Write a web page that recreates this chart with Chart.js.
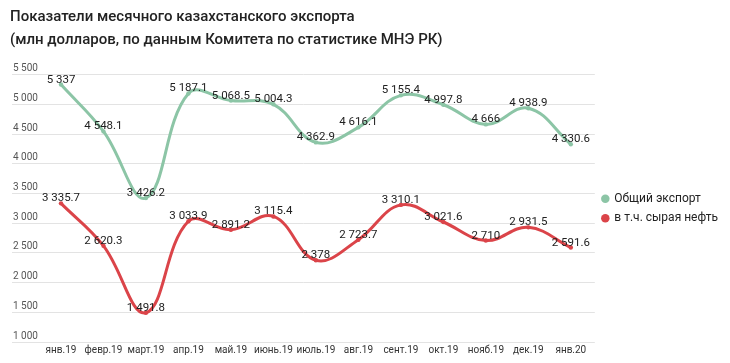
<!DOCTYPE html>
<html>
<head>
<meta charset="utf-8">
<script src="https://cdn.jsdelivr.net/npm/chart.js@4/dist/chart.umd.min.js"></script>
<style>
  html, body { margin: 0; padding: 0; background: #fff; }
  #wrap { width: 730px; height: 363px; position: relative; }
</style>
</head>
<body>
<div id="wrap"><canvas id="exportChart"></canvas></div>
<script>
const months = ["янв.19", "февр.19", "март.19", "апр.19", "май.19", "июнь.19", "июль.19",
                "авг.19", "сент.19", "окт.19", "нояб.19", "дек.19", "янв.20"];
const totalExport = [5337, 4548.1, 3426.2, 5187.1, 5068.5, 5004.3, 4362.9,
                     4616.1, 5155.4, 4997.8, 4666, 4938.9, 4330.6];
const crudeOil = [3335.7, 2620.3, 1491.8, 3033.9, 2891.2, 3115.4, 2378,
                  2723.7, 3310.1, 3021.6, 2710, 2931.5, 2591.6];
const seriesNames = ["Общий экспорт", "в т.ч. сырая нефть"];
const titleLines = ["Показатели месячного казахстанского экспорта",
                    "(млн долларов, по данным Комитета по статистике МНЭ РК)"];

const FONT = "Roboto, 'Noto Sans', sans-serif";

// 5337 -> "5 337", 4548.1 -> "4 548.1"
function fmt(v) {
    const parts = String(v).split(".");
    parts[0] = parts[0].replace(/\B(?=(\d{3})+(?!\d))/g, " ");
    return parts.join(".");
}

const valueLabels = {
    id: "valueLabels",
    afterDatasetsDraw(chart) {
        const ctx = chart.ctx;
        ctx.save();
        ctx.font = "11.5px " + FONT;
        ctx.fillStyle = "#212121";
        ctx.textAlign = "center";
        ctx.textBaseline = "alphabetic";
        chart.data.datasets.forEach((ds, di) => {
            chart.getDatasetMeta(di).data.forEach((pt, i) => {
                ctx.fillText(fmt(ds.data[i].y), pt.x, pt.y - 2);
            });
        });
        ctx.restore();
    }
};

const toPoints = arr => arr.map((y, x) => ({ x, y }));

new Chart(document.getElementById("exportChart"), {
    type: "line",
    data: {
        datasets: [
            {
                label: seriesNames[0],
                data: toPoints(totalExport),
                borderColor: "#8cc5a6",
                backgroundColor: "#8cc5a6",
                borderWidth: 3,
                tension: 0.4,
                pointRadius: 2.2,
                pointBorderWidth: 0,
                pointStyle: "circle"
            },
            {
                label: seriesNames[1],
                data: toPoints(crudeOil),
                borderColor: "#db4449",
                backgroundColor: "#db4449",
                borderWidth: 3,
                tension: 0.4,
                pointRadius: 2.2,
                pointBorderWidth: 0,
                pointStyle: "circle"
            }
        ]
    },
    options: {
        responsive: true,
        maintainAspectRatio: false,
        animation: false,
        layout: { padding: { left: 10, right: 2, top: 0, bottom: 5 } },
        plugins: {
            title: {
                display: true,
                text: titleLines,
                align: "start",
                color: "#222",
                font: { family: FONT, size: 15, weight: "500", lineHeight: 1.53 },
                padding: { top: 6, bottom: 23 }
            },
            legend: {
                position: "right",
                fullSize: false,
                labels: {
                    usePointStyle: true,
                    pointStyle: "circle",
                    boxWidth: 6,
                    boxHeight: 6,
                    padding: 7.5,
                    color: "#222",
                    font: { family: FONT, size: 12 }
                }
            },
            tooltip: { enabled: false }
        },
        scales: {
            x: {
                type: "linear",
                min: -1.153,
                max: 12.565,
                grid: { display: false, drawTicks: false },
                border: { display: false },
                afterBuildTicks: scale => {
                    scale.ticks = months.map((m, i) => ({ value: i }));
                },
                ticks: {
                    autoSkip: false,
                    maxRotation: 0,
                    padding: 2,
                    color: "#333",
                    font: { family: FONT, size: 10 },
                    callback: v => months[v]
                }
            },
            y: {
                min: 1000,
                max: 5500,
                grid: { color: "#e3e3e3", drawTicks: false },
                border: { display: false },
                ticks: {
                    stepSize: 500,
                    mirror: true,
                    padding: 1,
                    labelOffset: -6,
                    color: "#555",
                    font: { family: FONT, size: 10 },
                    callback: v => fmt(v)
                }
            }
        }
    },
    plugins: [valueLabels]
});
</script>
</body>
</html>
